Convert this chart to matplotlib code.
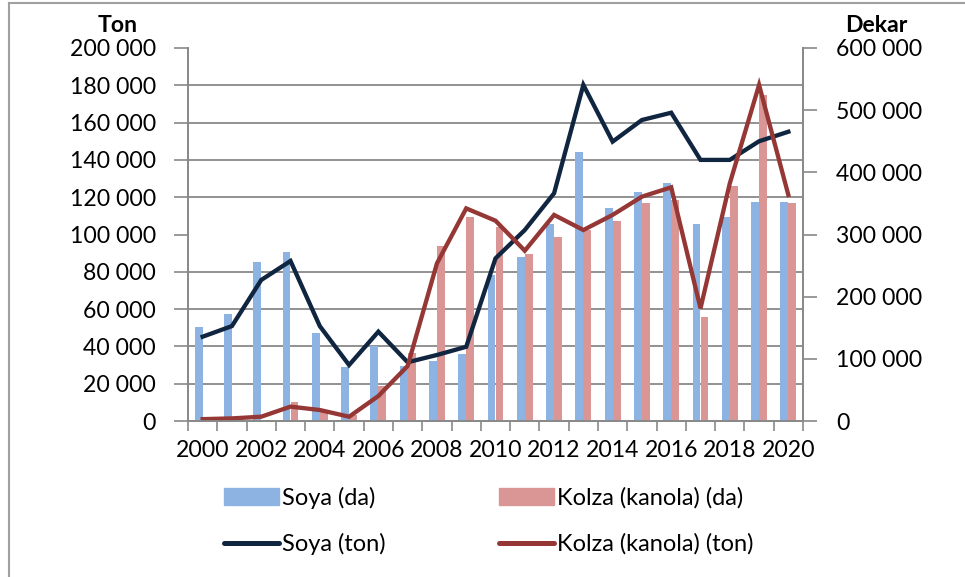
import numpy as np
import matplotlib.pyplot as plt
from matplotlib.patches import Patch
from matplotlib.lines import Line2D
from matplotlib.ticker import FixedLocator, FuncFormatter

plt.rcParams['font.family'] = ['Lato', 'DejaVu Sans']

# Datos
yillar = list(range(2000, 2021))
soya_da = [151700, 171600, 256300, 271300, 141100, 87400, 120600, 88500, 96500, 107200,
           234900, 264300, 316400, 432200, 343100, 367900, 382300, 316900, 328600, 352800, 351800]
kolza_da = [0, 0, 0, 30100, 17700, 9600, 56300, 108900, 281500, 328600,
            312600, 268600, 296500, 307200, 321700, 351200, 355500, 166800, 378500, 524400, 350200]
soya_ton = [45200, 50900, 75600, 85800, 50900, 30000, 47900, 31500, 35400, 39800,
            87200, 102400, 122100, 180200, 149800, 161400, 165300, 140000, 140000, 150000, 155100]
kolza_ton = [1000, 1400, 2300, 7700, 5900, 2300, 13400, 29500, 84500, 114000,
             107400, 91300, 110500, 102400, 110500, 120300, 125300, 60400, 127400, 180200, 121200]

c_soya_bar = '#8db3e2'
c_kolza_bar = '#d99694'
c_soya_lin = '#10253f'
c_kolza_lin = '#953735'
gris = '#898989'

fig = plt.figure(figsize=(9.65, 5.77), dpi=100)
ax = fig.add_axes([188/965, 1-421/577, 615/965, 373/577])
ax2 = ax.twinx()
ax.set_zorder(2)
ax2.set_zorder(1)
ax.patch.set_visible(False)

x = np.array(yillar)
w = 0.273
ax2.bar(x - w/2, soya_da, width=w, color=c_soya_bar, zorder=2)
ax2.bar(x + w/2, kolza_da, width=w, color=c_kolza_bar, zorder=2)

ax.plot(x, soya_ton, color=c_soya_lin, lw=3.1, solid_joinstyle='miter')
ax.plot(x, kolza_ton, color=c_kolza_lin, lw=3.1, solid_joinstyle='miter')

ax.set_xlim(1999.5, 2020.5)
ax.set_ylim(0, 200000)
ax2.set_ylim(0, 600000)

fmt = FuncFormatter(lambda v, p: f'{int(v):,}'.replace(',', ' '))
ax.set_yticks(np.arange(0, 200001, 20000))
ax.yaxis.set_major_formatter(fmt)
ax2.set_yticks(np.arange(0, 600001, 100000))
ax2.yaxis.set_major_formatter(fmt)

# lineas de cuadricula (cada 20 000 ton) dibujadas debajo de las barras
ax2.yaxis.set_minor_locator(FixedLocator(np.arange(0, 600001, 60000)))
ax2.set_axisbelow(True)
ax2.grid(which='minor', axis='y', color=gris, lw=1.3)
ax2.tick_params(axis='y', which='minor', length=0)

ax.set_xticks(yillar[::2])
ax.xaxis.set_minor_locator(FixedLocator(np.arange(1999.5, 2021, 1)))
ax.tick_params(axis='x', which='major', length=0, pad=14, labelsize=16.6)
ax.tick_params(axis='x', which='minor', length=7, color=gris, width=1.2)
ax.tick_params(axis='y', length=10, color=gris, width=1.2, pad=13, labelsize=16.6)
ax2.tick_params(axis='y', which='major', length=10, color=gris, width=1.2, pad=14, labelsize=16.6)

for a in (ax, ax2):
    a.spines['top'].set_visible(False)
    for s in ('left', 'right', 'bottom'):
        a.spines[s].set_color(gris)
        a.spines[s].set_linewidth(1.3)
ax2.tick_params(axis='x', length=0)

fig.text(118/965, 1-25/577, 'Ton', ha='center', va='center', fontsize=16.6, weight='bold')
fig.text(876/965, 1-25/577, 'Dekar', ha='center', va='center', fontsize=16.6, weight='bold')

handles = [Patch(color=c_soya_bar), Line2D([], [], color=c_soya_lin, lw=3.6, solid_capstyle='round'),
           Patch(color=c_kolza_bar), Line2D([], [], color=c_kolza_lin, lw=3.6, solid_capstyle='round')]
labels = ['Soya (da)', 'Soya (ton)', 'Kolza (kanola) (da)', 'Kolza (kanola) (ton)']
fig.legend(handles, labels, ncol=2, loc='upper left', bbox_to_anchor=(215/965, 1-477/577),
           frameon=False, fontsize=17, handlelength=2.3, handletextpad=0.15,
           columnspacing=4.8, labelspacing=1.05, borderaxespad=0)

# marco exterior
fig.add_artist(Line2D([9/965, 9/965], [0, 1-3/577], color='#a0a0a0', lw=1.5))
fig.add_artist(Line2D([9/965, 1], [1-3/577, 1-3/577], color='#a0a0a0', lw=1.5))

fig.savefig('out.png', dpi=100)
